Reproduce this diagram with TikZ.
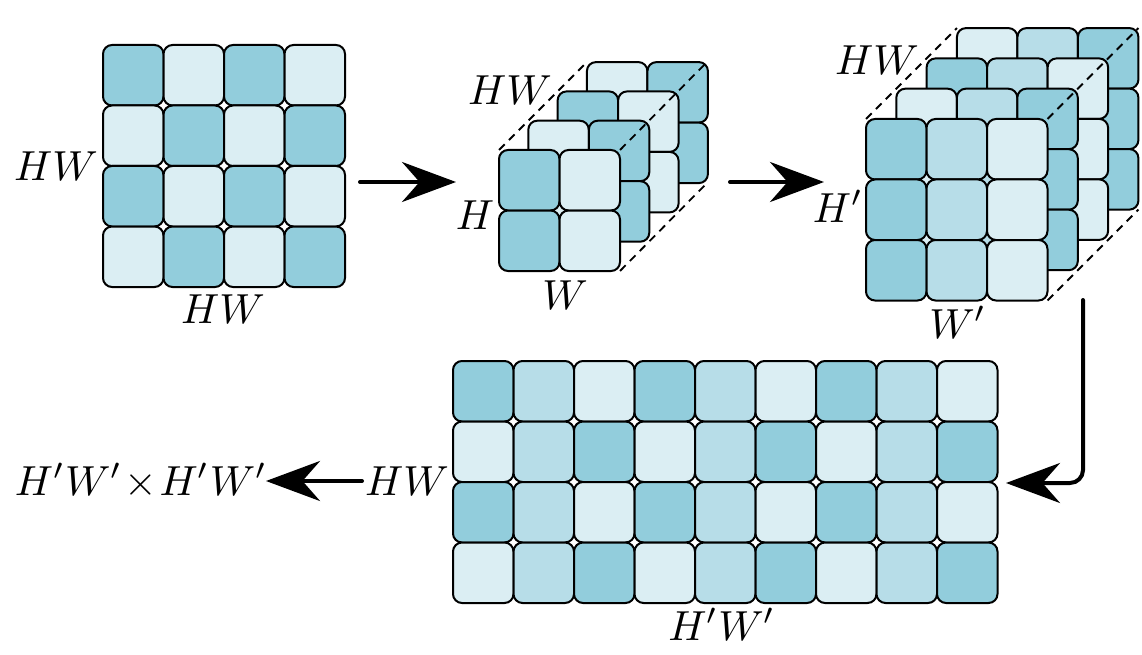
\documentclass[tikz,border=0pt]{standalone}
\usepackage{graphicx}
\usetikzlibrary{arrows.meta}
\definecolor{cD}{HTML}{92CDDC}
\definecolor{cM}{HTML}{B7DDE8}
\definecolor{cL}{HTML}{DBEEF3}
\newcommand{\biglbl}[1]{\scalebox{4.2}{$#1$}}
\begin{document}
\begin{tikzpicture}[x=1pt,y=-1pt,
  cell/.style={draw=black, line width=2pt, rounded corners=9pt, minimum width=60.5pt, minimum height=60.5pt, inner sep=0pt, outer sep=0pt},
  lbl/.style={inner sep=0pt, anchor=base},
  arr/.style={line width=4pt, line cap=round, -{Stealth[length=54pt,width=40pt]}},
  dashln/.style={line width=1.8pt, dash pattern=on 8pt off 6pt}]
\useasboundingbox (0,0) rectangle (1142,655);
\def\s{60.5}
% ---------- first grid ----------
\foreach \r in {0,...,3}{
  \foreach \c in {0,...,3}{
    \pgfmathtruncatemacro\k{mod(\r+\c,2)}
    \edef\col{\ifcase\k cD\or cL\fi}
    \node[cell, fill=\col] (g1-\r-\c) at ({103+\s*\c+\s/2},{45+\s*\r+\s/2}) {};
  }
}
\node[lbl] (g1L) at (56,180) {\biglbl{HW}};
\node[lbl] (g1B) at (223,323) {\biglbl{HW}};
% ---------- middle cube ----------
\foreach \k in {3,2,1,0}{
  \foreach \r in {0,1}{
    \foreach \c in {0,1}{
      \pgfmathtruncatemacro\m{mod(\k+\c,2)}
      \edef\col{\ifcase\m cD\or cL\fi}
      \node[cell, fill=\col] (m-\k-\r-\c) at ({499+29.3*\k+\s*\c+\s/2},{150-29.3*\k+\s*\r+\s/2}) {};
    }
  }
}
\coordinate (mF1) at (499,150);   \coordinate (mB1) at (586.9,62.1);
\coordinate (mF2) at (620,150);   \coordinate (mB2) at (706.9,62.1);
\coordinate (mF3) at (620,271);   \coordinate (mB3) at (706.9,183.1);
\draw[dashln] (mF1) -- (mB1);
\draw[dashln] (mF2) -- (mB2);
\draw[dashln] (mF3) -- (mB3);
\node[lbl] (mHW) at (510,105) {\biglbl{HW}};
\node[lbl] (mH) at (475,229) {\biglbl{H}};
\node[lbl] (mW) at (565,309) {\biglbl{W}};
% ---------- right cube ----------
\foreach \k in {3,2,1,0}{
  \foreach \r in {0,1,2}{
    \foreach \c in {0,1,2}{
      \pgfmathtruncatemacro\m{mod(\k,2)==0 ? \c : 2-\c}
      \edef\col{\ifcase\m cD\or cM\or cL\fi}
      \node[cell, fill=\col] (q-\k-\r-\c) at ({866+30.3*\k+\s*\c+\s/2},{119-30.3*\k+\s*\r+\s/2}) {};
    }
  }
}
\coordinate (qF1) at (866,119);      \coordinate (qB1) at (956.9,28.1);
\coordinate (qF2) at (1047.5,119);   \coordinate (qB2) at (1138.4,28.1);
\coordinate (qF3) at (1047.5,300.5); \coordinate (qB3) at (1138.4,209.6);
\draw[dashln] (qF1) -- (qB1);
\draw[dashln] (qF2) -- (qB2);
\draw[dashln] (qF3) -- (qB3);
\node[lbl] (qHW) at (877,75) {\biglbl{HW}};
\node[lbl] (qH) at (838,222) {\biglbl{H'}};
\node[lbl] (qW) at (958,338) {\biglbl{W'}};
% ---------- bottom grid ----------
\foreach \r in {0,...,3}{
  \foreach \c in {0,...,8}{
    \pgfmathtruncatemacro\m{mod(\r,2)==0 ? mod(\c,3) : 2-mod(\c,3)}
    \edef\col{\ifcase\m cD\or cM\or cL\fi}
    \node[cell, fill=\col] (b-\r-\c) at ({453+\s*\c+\s/2},{361+\s*\r+\s/2}) {};
  }
}
\node[lbl] (bHW) at (407,495) {\biglbl{HW}};
\node[lbl] (bRes) at (141,495) {\biglbl{H'W'\mskip1mu{\times}\mskip1mu H'W'}};
\node[lbl] (bB) at (722,640) {\biglbl{H'W'}};
% ---------- arrows ----------
\coordinate (a1s) at (360,182); \coordinate (a1e) at (456,182);
\coordinate (a2s) at (730,182); \coordinate (a2e) at (824,182);
\coordinate (a3s) at (1083,300); \coordinate (a3e) at (1006,483);
\coordinate (a4s) at (362,481); \coordinate (a4e) at (266,481);
\draw[arr] (a1s) -- (a1e);
\draw[arr] (a2s) -- (a2e);
\draw[arr, rounded corners=13pt] (a3s) |- (a3e);
\draw[arr] (a4s) -- (a4e);
\end{tikzpicture}
\end{document}
